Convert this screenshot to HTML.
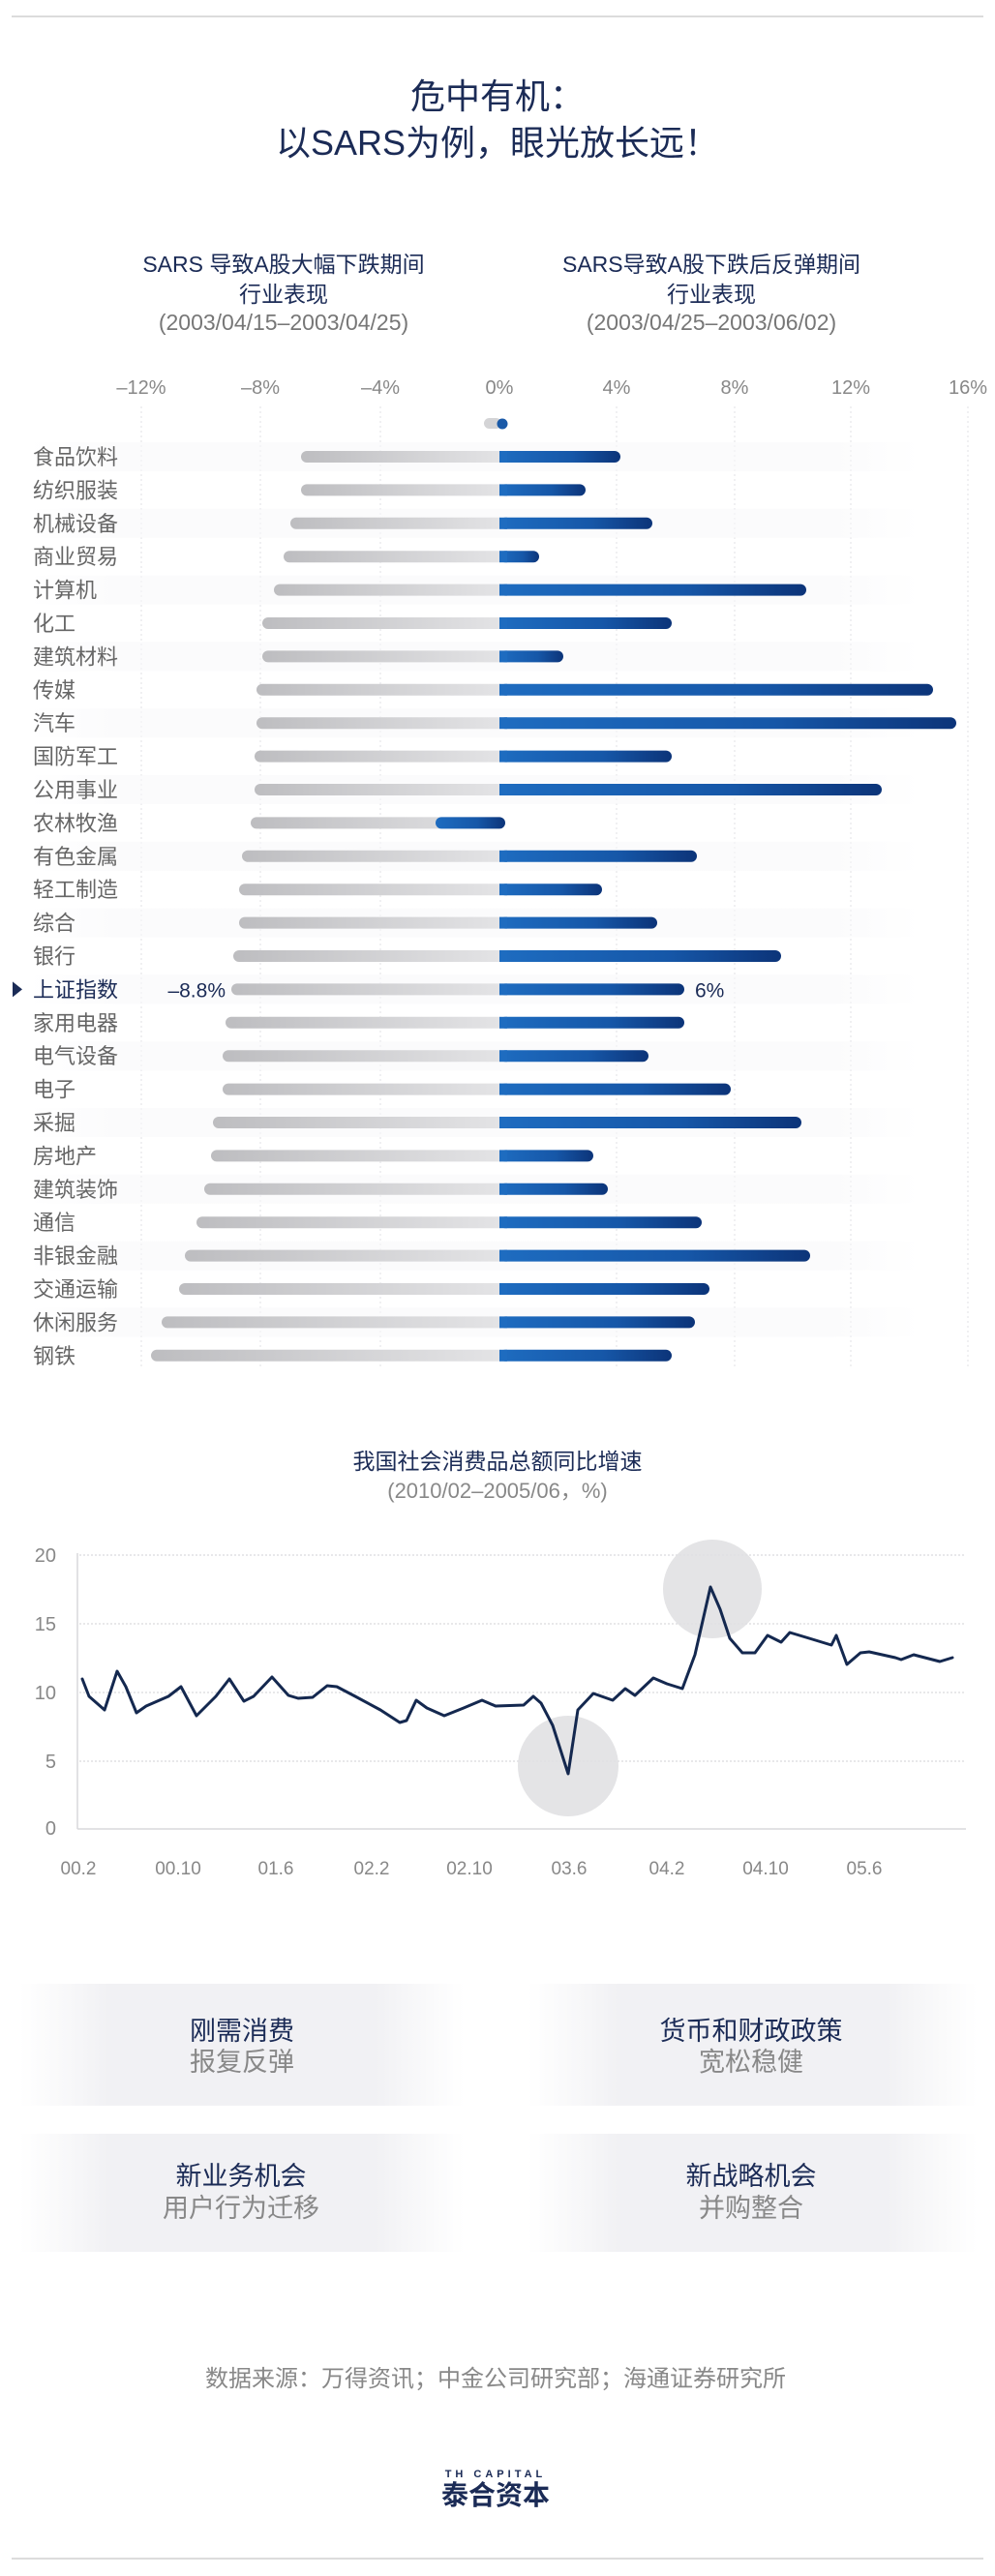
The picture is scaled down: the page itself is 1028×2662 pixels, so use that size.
<!DOCTYPE html>
<html><head><meta charset="utf-8"><style>
html,body{margin:0;padding:0;background:#fff;}
svg{display:block;}
text{font-family:"Liberation Sans","Noto Sans CJK SC",sans-serif;}
</style></head><body>
<svg width="1028" height="2662" viewBox="0 0 1028 2662" xmlns="http://www.w3.org/2000/svg">
<defs>
<linearGradient id="gg" x1="0" x2="1" y1="0" y2="0"><stop offset="0" stop-color="#bdbdc0"/><stop offset="1" stop-color="#e4e4e6"/></linearGradient>
<linearGradient id="bg" x1="0" x2="1" y1="0" y2="0"><stop offset="0" stop-color="#1e6cc0"/><stop offset="0.6" stop-color="#1657a8"/><stop offset="1" stop-color="#0c3479"/></linearGradient>
<linearGradient id="band" x1="0" x2="1"><stop offset="0" stop-color="#f8f8fa" stop-opacity="0"/><stop offset="0.1" stop-color="#f8f8fa" stop-opacity="0.6"/><stop offset="0.9" stop-color="#f8f8fa" stop-opacity="0.6"/><stop offset="1" stop-color="#f8f8fa" stop-opacity="0"/></linearGradient>
<linearGradient id="card" x1="0" x2="1"><stop offset="0" stop-color="#f3f3f5" stop-opacity="0"/><stop offset="0.2" stop-color="#f1f1f4"/><stop offset="0.8" stop-color="#f1f1f4"/><stop offset="1" stop-color="#f3f3f5" stop-opacity="0"/></linearGradient>
</defs>
<line x1="12" y1="17" x2="1016" y2="17" stroke="#dcdcdc" stroke-width="2"/>
<text x="514" y="112" text-anchor="middle" font-size="36" fill="#1b2b56">危中有机：</text>
<text x="514" y="160" text-anchor="middle" font-size="36" fill="#1b2b56">以SARS为例，眼光放长远！</text>

<g font-size="23" text-anchor="middle">
<text x="293" y="281" fill="#1b2b56">SARS 导致A股大幅下跌期间</text>
<text x="293" y="312" fill="#1b2b56">行业表现</text>
<text x="293" y="341" fill="#777">(2003/04/15–2003/04/25)</text>
<text x="735" y="281" fill="#1b2b56">SARS导致A股下跌后反弹期间</text>
<text x="735" y="312" fill="#1b2b56">行业表现</text>
<text x="735" y="341" fill="#777">(2003/04/25–2003/06/02)</text>
</g>
<g font-size="20" fill="#888" text-anchor="middle">
<text x="146" y="407">–12%</text><text x="269" y="407">–8%</text><text x="393" y="407">–4%</text><text x="516" y="407">0%</text><text x="637" y="407">4%</text><text x="759" y="407">8%</text><text x="879" y="407">12%</text><text x="1000" y="407">16%</text>
</g>
<g stroke="#e2e2e6" stroke-width="1" stroke-dasharray="2,3">
<line x1="146" y1="420" x2="146" y2="1415"/><line x1="269" y1="420" x2="269" y2="1415"/><line x1="393" y1="420" x2="393" y2="1415"/><line x1="637" y1="420" x2="637" y2="1415"/><line x1="759" y1="420" x2="759" y2="1415"/><line x1="879" y1="420" x2="879" y2="1415"/><line x1="1000" y1="420" x2="1000" y2="1415"/>
</g>
<rect x="500" y="432" width="18" height="11" rx="5.5" fill="#d4d4d6"/>
<circle cx="519" cy="438" r="5.5" fill="#1a5aa8"/>
<g id="bars"></g>

<text x="514" y="1518" text-anchor="middle" font-size="23" fill="#1b2b56">我国社会消费品总额同比增速</text>
<text x="514" y="1548" text-anchor="middle" font-size="22" fill="#888">(2010/02–2005/06，%)</text>
<circle cx="736" cy="1642" r="51" fill="#e4e4e6"/>
<circle cx="587" cy="1825" r="52" fill="#e4e4e6"/>
<g stroke="#e0e0e3" stroke-width="1.5" stroke-dasharray="2,2">
<line x1="82" y1="1607" x2="997" y2="1607"/><line x1="82" y1="1678" x2="997" y2="1678"/><line x1="82" y1="1749" x2="997" y2="1749"/><line x1="82" y1="1820" x2="997" y2="1820"/>
</g>
<line x1="80" y1="1605" x2="80" y2="1890" stroke="#d8d8dc" stroke-width="1.5"/>
<line x1="80" y1="1890" x2="998" y2="1890" stroke="#d8d8dc" stroke-width="1.5"/>
<g font-size="20" fill="#888" text-anchor="end">
<text x="58" y="1614">20</text><text x="58" y="1685">15</text><text x="58" y="1756">10</text><text x="58" y="1827">5</text><text x="58" y="1896">0</text>
</g>
<g font-size="19" fill="#888" text-anchor="middle">
<text x="81" y="1937">00.2</text><text x="184" y="1937">00.10</text><text x="285" y="1937">01.6</text><text x="384" y="1937">02.2</text><text x="485" y="1937">02.10</text><text x="588" y="1937">03.6</text><text x="689" y="1937">04.2</text><text x="791" y="1937">04.10</text><text x="893" y="1937">05.6</text>
</g>
<polyline fill="none" stroke="#14284f" stroke-width="3" stroke-linejoin="round" stroke-linecap="round" points="85,1735 92,1753 108,1767 121,1727 130,1743 141,1770 151,1763 174,1753 187,1743 203,1773 223,1753 237,1735 252,1758 262,1753 281,1733 298,1752 308,1755 323,1754 338,1742 348,1743 367,1753 393,1767 413,1780 420,1778 430,1757 441,1765 459,1773 479,1765 498,1757 512,1763 541,1762 551,1753 559,1760 571,1783 587,1833 597,1767 613,1750 633,1757 646,1745 656,1752 675,1734 689,1740 705,1745 718,1710 734,1640 744,1663 754,1693 767,1708 780,1708 793,1690 807,1697 816,1687 836,1693 859,1700 864,1690 875,1720 889,1708 898,1707 925,1713 931,1715 944,1710 971,1717 984,1713"/>

<rect x="20" y="2050" width="460" height="126" fill="url(#card)"/>
<rect x="545" y="2050" width="465" height="126" fill="url(#card)"/>
<rect x="20" y="2205" width="460" height="122" fill="url(#card)"/>
<rect x="545" y="2205" width="465" height="122" fill="url(#card)"/>
<g font-size="27" text-anchor="middle">
<text x="250" y="2108" fill="#1b2b56">刚需消费</text><text x="250" y="2140" fill="#888">报复反弹</text>
<text x="776" y="2108" fill="#1b2b56">货币和财政政策</text><text x="776" y="2140" fill="#888">宽松稳健</text>
<text x="249" y="2258" fill="#1b2b56">新业务机会</text><text x="249" y="2291" fill="#888">用户行为迁移</text>
<text x="776" y="2258" fill="#1b2b56">新战略机会</text><text x="776" y="2291" fill="#888">并购整合</text>
</g>
<text x="512" y="2466" text-anchor="middle" font-size="24" fill="#888">数据来源：万得资讯；中金公司研究部；海通证券研究所</text>
<text x="512" y="2560" text-anchor="middle" font-size="11" font-weight="bold" letter-spacing="4" fill="#1b2b56">TH CAPITAL</text>
<text x="512" y="2588" text-anchor="middle" font-size="28" font-weight="bold" fill="#1b2b56">泰合资本</text>
<line x1="12" y1="2644" x2="1016" y2="2644" stroke="#dcdcdc" stroke-width="2"/>
</svg>
<script>
var rows=[["食品饮料",311,641],["纺织服装",311,605],["机械设备",300,674],["商业贸易",293,557],["计算机",283,833],["化工",271,694],["建筑材料",271,582],["传媒",265,964],["汽车",265,988],["国防军工",263,694],["公用事业",263,911],["农林牧渔",259,0],["有色金属",250,720],["轻工制造",247,622],["综合",247,679],["银行",241,807],["上证指数",239,707],["家用电器",233,707],["电气设备",230,670],["电子",230,755],["采掘",220,828],["房地产",218,613],["建筑装饰",211,628],["通信",203,725],["非银金融",191,837],["交通运输",185,733],["休闲服务",167,718],["钢铁",156,694]];
var g=document.getElementById("bars"),h="";
rows.forEach(function(r,i){var y=472+34.4*i;
if(i%2==0)h+='<rect x="30" y="'+(y-15)+'" width="920" height="30" fill="url(#band)"/>';
h+='<rect x="'+r[1]+'" y="'+(y-6)+'" width="'+(516-r[1]+6)+'" height="12" rx="6" fill="url(#gg)"/>';
if(r[2])h+='<rect x="516" y="'+(y-6)+'" width="'+(r[2]-516)+'" height="12" rx="6" fill="url(#bg)"/><rect x="516" y="'+(y-6)+'" width="8" height="12" fill="#1e6cc0"/>';
else h+='<rect x="450" y="'+(y-6)+'" width="72" height="12" rx="6" fill="url(#bg)"/>';
var sp=r[0]=="上证指数";
h+='<text x="34" y="'+(y+8)+'" font-size="22" fill="'+(sp?'#1b2b56':'#666')+'">'+r[0]+'</text>';
if(sp){h+='<polygon points="13,'+(y-8)+' 23,'+y+' 13,'+(y+8)+'" fill="#1b2b56"/>';
h+='<text x="233" y="'+(y+8)+'" font-size="21" text-anchor="end" fill="#1b2b56">–8.8%</text><text x="718" y="'+(y+8)+'" font-size="21" fill="#1b2b56">6%</text>';}
});
g.innerHTML=h;
</script>
</body></html>
